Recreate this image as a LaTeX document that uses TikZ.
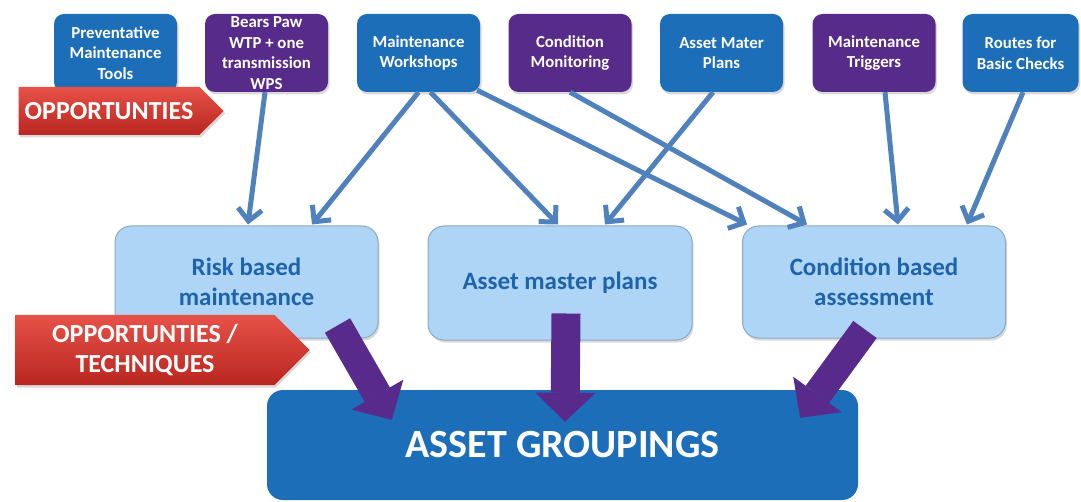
\documentclass[tikz,border=0pt]{standalone}
\usepackage{fontspec}
\setmainfont{Carlito}
\usetikzlibrary{arrows.meta,shapes.symbols,shadows}

\definecolor{topblue}{RGB}{29,110,185}
\definecolor{toppurple}{RGB}{87,43,137}
\definecolor{paleblue}{RGB}{174,212,246}
\definecolor{paleedge}{RGB}{140,170,200}
\definecolor{textblue}{RGB}{30,100,170}
\definecolor{linkblue}{RGB}{79,129,189}
\definecolor{tagtop}{RGB}{230,82,72}
\definecolor{tagbottom}{RGB}{185,38,32}
\definecolor{fatpurple}{RGB}{88,42,140}

\begin{document}
\begin{tikzpicture}[
    x=1pt, y=1pt,
    topbox/.style={rounded corners=10pt, minimum width=123pt, minimum height=78pt,
      inner sep=0pt, align=center, text=white,
      font=\fontsize{16.8}{20.5}\selectfont\bfseries,
      drop shadow={opacity=0.3, shadow xshift=1.5pt, shadow yshift=-2.5pt}},
    bluebox/.style={topbox, fill=topblue},
    purplebox/.style={topbox, fill=toppurple},
    midbox/.style={rounded corners=16pt, fill=paleblue, draw=paleedge, line width=1pt,
      minimum width=263pt, minimum height=112pt, align=center, text=textblue,
      font=\fontsize{25}{29.5}\selectfont\bfseries,
      drop shadow={opacity=0.3, shadow xshift=1.5pt, shadow yshift=-2.5pt}},
    groupbox/.style={rounded corners=16pt, fill=topblue, minimum width=591pt,
      minimum height=110pt, text=white, font=\fontsize{40}{48}\selectfont\bfseries},
    tag/.style={shape=signal, signal to=east, signal pointer angle=90,
      top color=tagtop, bottom color=tagbottom, inner sep=0pt, align=center,
      text=white, font=\fontsize{26}{30}\selectfont\bfseries,
      drop shadow={opacity=0.3, shadow xshift=1.5pt, shadow yshift=-2.5pt}},
    link/.style={draw=linkblue, line width=5pt,
      -{Straight Barb[length=12pt, width=24pt]}},
    fatarrow/.style={draw=fatpurple, line width=29pt,
      -{Triangle[length=29pt, width=60pt, line width=0pt]}}]
\useasboundingbox (0,0) rectangle (1081,501);

% sources along the top
\node[bluebox] (tools) at (115.5,448) {Preventative\\Maintenance\\Tools};
\node[purplebox] (bears) at (266.5,448) {Bears Paw\\WTP + one\\transmission\\WPS};
\node[bluebox] (shops) at (418.5,448) {Maintenance\\Workshops};
\node[purplebox] (monitor) at (570,448) {Condition\\Monitoring};
\node[bluebox] (mater) at (721.5,448) {Asset Mater\\Plans};
\node[purplebox] (triggers) at (874,448) {Maintenance\\Triggers};
\node[bluebox, minimum width=116pt] (routes) at (1020.5,448) {Routes for\\Basic Checks};

% techniques in the middle row
\node[midbox] (risk) at (246.5,219) {Risk based\\maintenance};
\node[midbox, minimum width=264pt, minimum height=114pt] (plans) at (560,218) {Asset master plans};
\node[midbox] (cond) at (874,219) {Condition based\\assessment};

\draw[link] ([xshift=-1.5pt]bears.south) -- ([xshift=1.5pt,yshift=1pt]risk.north);
\draw[link] (shops.south) -- ([xshift=65.5pt,yshift=1pt]risk.north);
\draw[link] ([xshift=12pt]shops.south) -- ([xshift=-2pt,yshift=1pt]plans.north);
\draw[link] ([xshift=-3pt,yshift=2pt]shops.south east) -- ([xshift=-127pt,yshift=1pt]cond.north);
\draw[link] (monitor.south) -- ([xshift=-67pt,yshift=1pt]cond.north);
\draw[link] ([xshift=-8.5pt]mater.south) -- ([xshift=45pt,yshift=1pt]plans.north);
\draw[link] ([xshift=11pt]triggers.south) -- ([xshift=24pt,yshift=1pt]cond.north);
\draw[link] ([xshift=2.5pt]routes.south) -- ([xshift=93pt,yshift=1pt]cond.north);

% red labels
\node[tag, minimum width=205pt, minimum height=48pt] (opp) at (109,390) {OPPORTUNTIES};
\node[tag, minimum width=294pt, minimum height=70pt] (opptech) at (145,151)
  {OPPORTUNTIES /\\TECHNIQUES};

% everything ends up in the groupings
\node[groupbox] (groups) at (562.5,56) {ASSET GROUPINGS};

\draw[fatarrow] ([xshift=-41pt,yshift=13pt]risk.south east)
  -- ([xshift=125pt,yshift=-30pt]groups.north west);
\draw[fatarrow] ([xshift=6pt,yshift=27pt]plans.south)
  -- ([xshift=2.5pt,yshift=-32pt]groups.north);
\draw[fatarrow] ([xshift=-9pt,yshift=9pt]cond.south)
  -- ([xshift=-58pt,yshift=-28pt]groups.north east);
\end{tikzpicture}
\end{document}
